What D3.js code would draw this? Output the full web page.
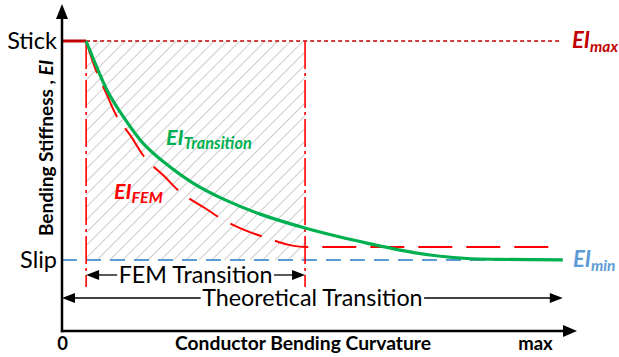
<!DOCTYPE html>
<html>
<head>
<meta charset="utf-8">
<script src="https://cdn.jsdelivr.net/npm/d3@7/dist/d3.min.js"></script>
<style>
  html, body { margin: 0; padding: 0; background: #fff; }
  svg { display: block; font-family: Lato, "Open Sans", sans-serif; }
</style>
</head>
<body>
<svg id="chart" width="619" height="357"></svg>
<script>
// Normalised curvature (0 .. max = 1) and normalised stiffness (EI / EI_max)
const curvatureTicks = [0, 1];
const curvatureTickLabels = ["0", "max"];
const stiffnessLevels = [0.245, 1];
const stiffnessLabels = ["Slip", "Stick"];

const EImax = 1;
const EImin = 0.245;
const femRange = [0.051, 0.514];
const theoreticalRange = [0, 1.059];

// Smooth stick-slip transition curve
const transitionCurvature = [0.051, 0.070, 0.095, 0.123, 0.171, 0.218, 0.277, 0.345, 0.419, 0.514, 0.588, 0.645, 0.715, 0.778, 0.856, 0.926, 1.059];
const transitionStiffness = [1.000, 0.924, 0.831, 0.755, 0.648, 0.579, 0.510, 0.452, 0.403, 0.355, 0.324, 0.303, 0.279, 0.262, 0.250, 0.247, 0.245];

// FEM-predicted stiffness
const femCurvature = [0.051, 0.066, 0.095, 0.112, 0.148, 0.171, 0.218, 0.245, 0.302, 0.334, 0.397, 0.433, 0.480, 0.514, 1.038];
const femStiffness = [1.000, 0.924, 0.814, 0.752, 0.666, 0.607, 0.531, 0.486, 0.424, 0.390, 0.341, 0.321, 0.297, 0.290, 0.290];

const svg = d3.select("#chart");
const x = d3.scaleLinear().domain([0, 1.089]).range([62, 577]);
const y = d3.scaleLinear().domain([0, 1.131]).range([331, 3]);

const RED = "#FF0000", DARKRED = "#C00000", GREEN = "#00B050", BLUE = "#5B9BD5";

// Hatch pattern for the FEM transition region
const defs = svg.append("defs");
defs.append("pattern")
  .attr("id", "hatch").attr("patternUnits", "userSpaceOnUse")
  .attr("width", 9).attr("height", 9)
  .attr("patternTransform", "rotate(45)")
  .append("line").attr("x1", 0).attr("y1", 0).attr("x2", 0).attr("y2", 9)
  .attr("stroke", "#BFBFBF").attr("stroke-width", 1.6);

svg.append("rect")
  .attr("x", x(femRange[0])).attr("y", y(EImax))
  .attr("width", x(femRange[1]) - x(femRange[0]))
  .attr("height", y(EImin) - y(EImax))
  .attr("fill", "url(#hatch)");

// EI_max reference (dotted) and stick plateau
svg.append("line")
  .attr("x1", x(femRange[0])).attr("x2", x(theoreticalRange[1]) - 1)
  .attr("y1", y(EImax)).attr("y2", y(EImax))
  .attr("stroke", DARKRED).attr("stroke-width", 1.6).attr("stroke-dasharray", "4,3");
svg.append("line")
  .attr("x1", x(0)).attr("x2", x(femRange[0]))
  .attr("y1", y(EImax)).attr("y2", y(EImax))
  .attr("stroke", DARKRED).attr("stroke-width", 3);

// EI_min reference (dashed blue)
svg.append("line")
  .attr("x1", x(0)).attr("x2", x(theoreticalRange[1]))
  .attr("y1", y(EImin)).attr("y2", y(EImin))
  .attr("stroke", BLUE).attr("stroke-width", 2).attr("stroke-dasharray", "15,9");

// FEM range boundaries (dash-dot)
femRange.forEach(c => {
  svg.append("line")
    .attr("x1", x(c)).attr("x2", x(c))
    .attr("y1", y(EImax)).attr("y2", 287)
    .attr("stroke", RED).attr("stroke-width", 1.6)
    .attr("stroke-dasharray", "28,4,3,4");
});

const femLine = d3.line().x(d => x(d[0])).y(d => y(d[1])).curve(d3.curveMonotoneX);
const smoothLine = d3.line().x(d => x(d[0])).y(d => y(d[1])).curve(d3.curveCatmullRom.alpha(0.5));

// FEM curve
svg.append("path")
  .datum(d3.zip(femCurvature, femStiffness))
  .attr("d", femLine).attr("fill", "none")
  .attr("stroke", RED).attr("stroke-width", 2).attr("stroke-dasharray", "34,14");

// Transition curve
svg.append("path")
  .datum(d3.zip(transitionCurvature, transitionStiffness))
  .attr("d", smoothLine).attr("fill", "none")
  .attr("stroke", GREEN).attr("stroke-width", 3.2);

// Axes lines with arrowheads
svg.append("line").attr("x1", x(0)).attr("x2", x(0)).attr("y1", y(0) + 1.2).attr("y2", y.range()[1] + 12)
  .attr("stroke", "#000").attr("stroke-width", 2.5);
svg.append("path")
  .attr("d", `M${x(0)},${y.range()[1] + 1}L${x(0) - 6},${y.range()[1] + 16}L${x(0) + 6},${y.range()[1] + 16}Z`)
  .attr("fill", "#000");
svg.append("line").attr("x1", x(0) - 1.2).attr("x2", x.range()[1] - 10).attr("y1", y(0)).attr("y2", y(0))
  .attr("stroke", "#000").attr("stroke-width", 2.5);
svg.append("path")
  .attr("d", `M${x.range()[1]},${y(0)}L${x.range()[1] - 14},${y(0) - 6}L${x.range()[1] - 14},${y(0) + 6}Z`)
  .attr("fill", "#000");

// Tick labels via d3 axes (no ticks or domain drawn)
const yAxis = svg.append("g").attr("transform", `translate(${x(0)},0)`)
  .call(d3.axisLeft(y).tickValues(stiffnessLevels).tickSize(0).tickPadding(5)
    .tickFormat((d, i) => stiffnessLabels[i]));
yAxis.select(".domain").remove();
yAxis.selectAll("text").attr("font-family", "Lato, sans-serif").attr("font-size", 23.5).attr("fill", "#000");

const xAxis = svg.append("g").attr("transform", `translate(0,${y(0)})`)
  .call(d3.axisBottom(x).tickValues(curvatureTicks).tickSize(0)
    .tickFormat((d, i) => curvatureTickLabels[i]));
xAxis.select(".domain").remove();
xAxis.selectAll("text").attr("font-family", "Lato, sans-serif").attr("font-size", 18.5)
  .attr("font-weight", "bold").attr("fill", "#000").attr("y", 19).attr("dy", 0);

// Axis titles
svg.append("text").attr("x", 303).attr("y", 350).attr("text-anchor", "middle")
  .attr("font-size", 19.3).attr("font-weight", "bold").text("Conductor Bending Curvature");

const yt = svg.append("text").attr("transform", "translate(53,148) rotate(-90)")
  .attr("text-anchor", "middle").attr("font-size", 19).attr("font-weight", "bold");
yt.append("tspan").text("Bending Stiffness , ");
yt.append("tspan").attr("font-style", "italic").text("EI");

// Curve labels: EI with subscript
function eiLabel(px, py, sub, color, size, subSize) {
  const t = svg.append("text").attr("x", px).attr("y", py)
    .attr("fill", color).attr("font-weight", "bold").attr("font-style", "italic");
  t.append("tspan").attr("font-size", size).text("EI");
  t.append("tspan").attr("font-size", subSize).attr("dy", 4).text(sub);
}
eiLabel(572, 48, "max", DARKRED, 22, 15.5);
eiLabel(573, 267, "min", BLUE, 22, 15.5);
eiLabel(166, 145, "Transition", GREEN, 21.5, 16.3);
eiLabel(114, 199, "FEM", RED, 21.5, 16);

// Range annotations: double-headed arrows broken around their text
function rangeArrow(c0, c1, py, label, size) {
  const x0 = x(c0), x1 = x(c1);
  const t = svg.append("text").attr("x", (x0 + x1) / 2).attr("y", py + 7.5)
    .attr("text-anchor", "middle").attr("font-size", size).text(label);
  const w = t.node().getComputedTextLength();
  const cx = (x0 + x1) / 2;
  svg.append("line").attr("x1", x0 + 10).attr("x2", cx - w / 2 - 1.5).attr("y1", py).attr("y2", py)
    .attr("stroke", "#000").attr("stroke-width", 1.3);
  svg.append("line").attr("x1", cx + w / 2 + 1.5).attr("x2", x1 - 10).attr("y1", py).attr("y2", py)
    .attr("stroke", "#000").attr("stroke-width", 1.3);
  svg.append("path").attr("d", `M${x0},${py}L${x0 + 13},${py - 5}L${x0 + 13},${py + 5}Z`).attr("fill", "#000");
  svg.append("path").attr("d", `M${x1},${py}L${x1 - 13},${py - 5}L${x1 - 13},${py + 5}Z`).attr("fill", "#000");
}
rangeArrow(femRange[0], femRange[1], 275, "FEM Transition", 23.3);
rangeArrow(theoreticalRange[0], theoreticalRange[1], 298, "Theoretical Transition", 23.3);
</script>
</body>
</html>
